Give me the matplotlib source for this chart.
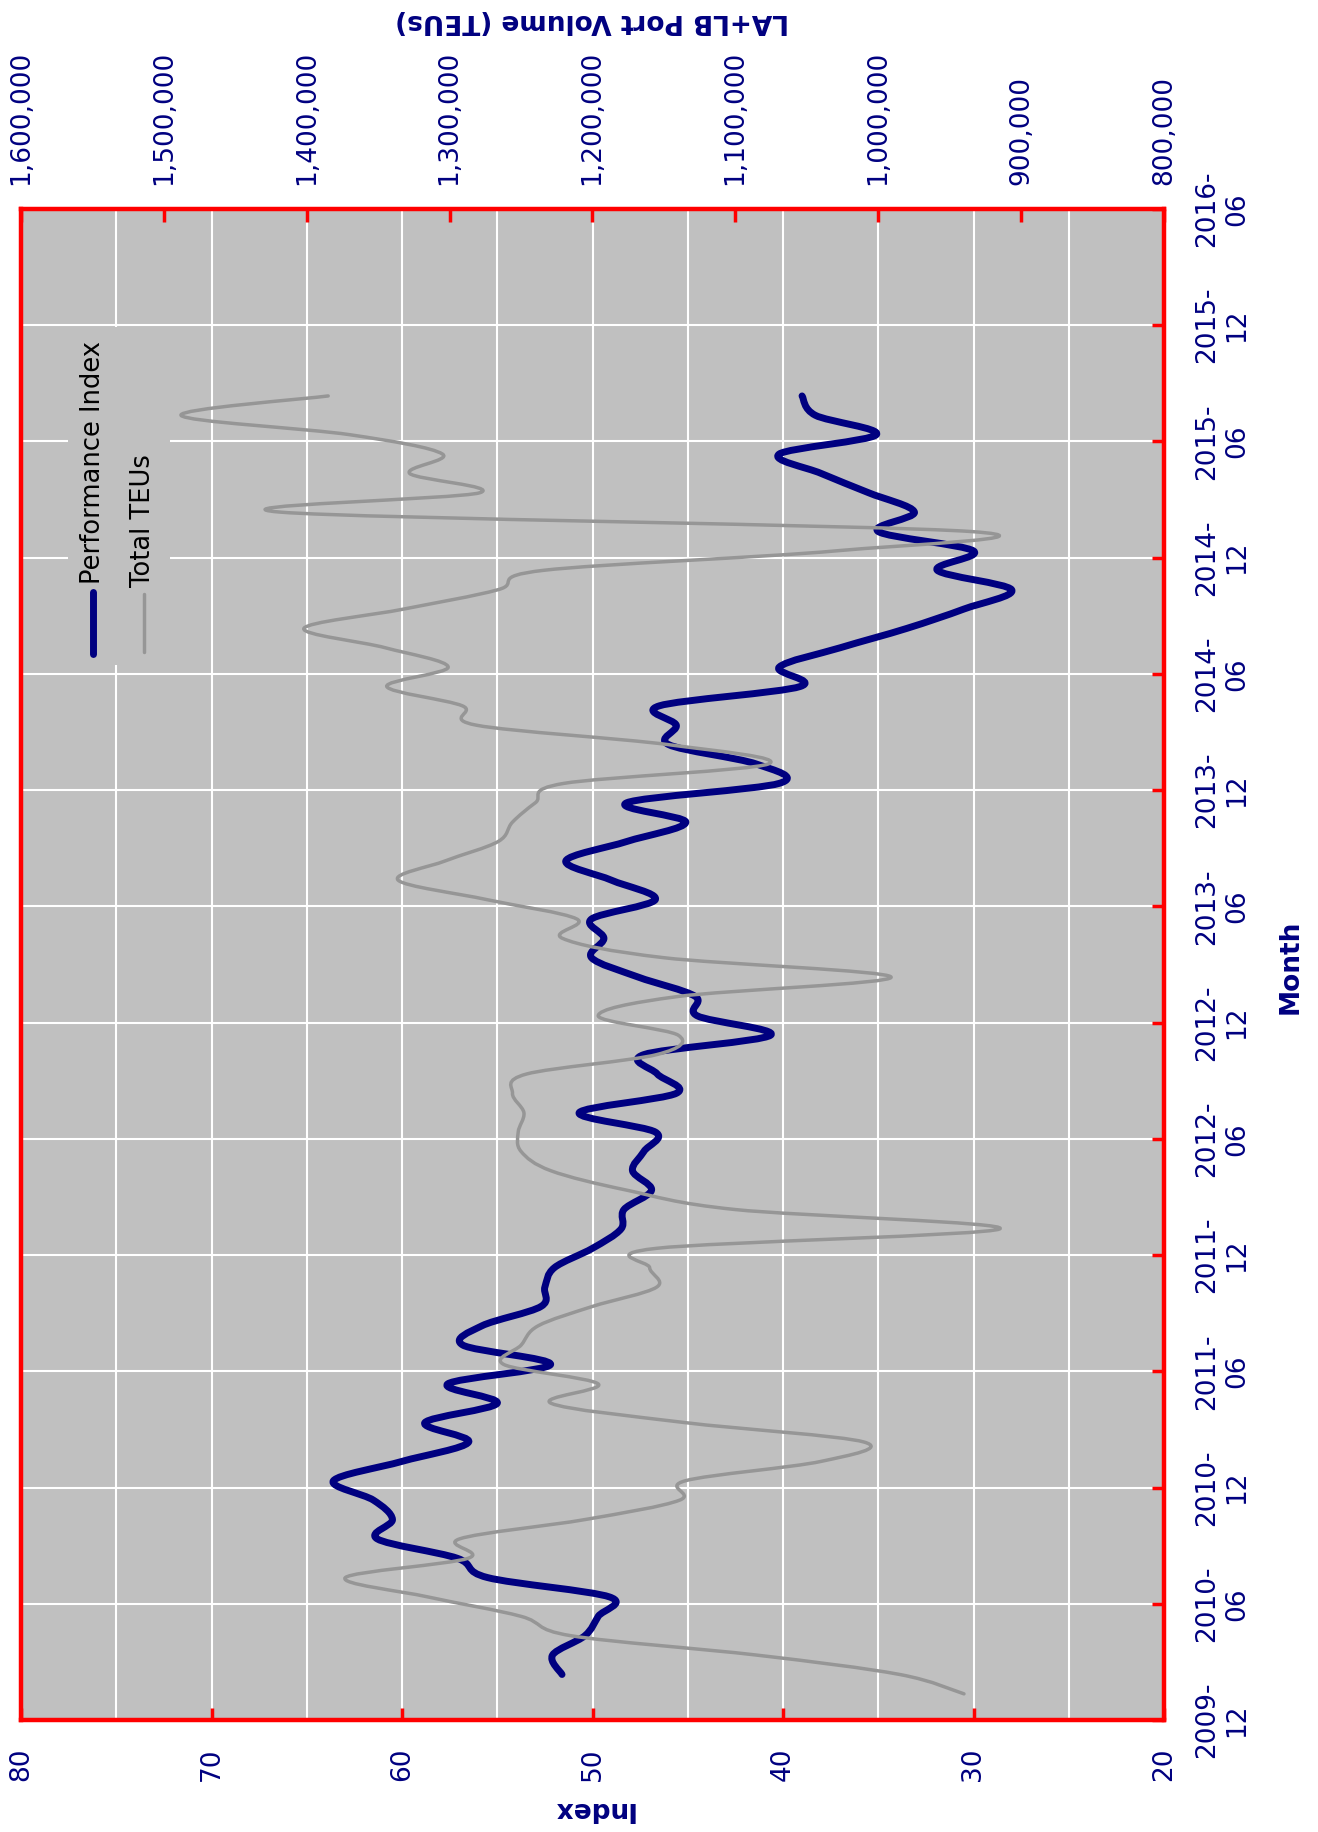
import numpy as np
import pandas as pd
import matplotlib
matplotlib.use("Agg")
import matplotlib.pyplot as plt
from matplotlib.path import Path
from matplotlib.patches import PathPatch, Rectangle
from matplotlib.lines import Line2D

# ---------------- data ----------------
axis_months = ["2009-12", "2010-06", "2010-12", "2011-06", "2011-12", "2012-06", "2012-12",
               "2013-06", "2013-12", "2014-06", "2014-12", "2015-06", "2015-12", "2016-06"]

teu_months = [str(p) for p in pd.period_range("2010-01", "2015-08", freq="M")]
teu_values = [940000, 985000, 1085000, 1215000, 1250000, 1315000, 1373000, 1287000, 1293000, 1205000,
              1139000, 1135000, 1040000, 1010000, 1135000, 1229000, 1196000, 1262000, 1250000, 1238000,
              1200000, 1155000, 1160000, 1155000, 915000, 1100000, 1176000, 1229000, 1250000, 1252000,
              1248000, 1256000, 1246000, 1155000, 1140000, 1196000, 1140000, 991000, 1150000, 1221000,
              1211000, 1274000, 1336000, 1303000, 1266000, 1256000, 1240000, 1220000, 1077000, 1147000,
              1281000, 1291000, 1344000, 1301000, 1345000, 1402000, 1332000, 1266000, 1234000, 1030000,
              935000, 1418000, 1279000, 1328000, 1305000, 1370000, 1488000, 1385000]

index_months = [str(p) for p in pd.period_range("2010-02", "2015-08", freq="M")]
index_values = [51.6, 52.1, 50.4, 49.7, 49.1, 55.5, 57.1, 61.3, 60.5, 61.5,
                63.6, 60.0, 56.5, 58.8, 55.0, 57.6, 52.2, 56.8, 55.8, 52.7,
                52.5, 52.0, 50.0, 48.5, 48.35, 46.9, 47.9, 47.3, 46.7, 50.7,
                45.6, 46.6, 47.3, 40.65, 44.5, 44.6, 47.6, 50.05, 49.4, 50.05,
                46.7, 49.0, 51.4, 48.2, 45.1, 48.2, 40.2, 41.4, 46.0, 45.6,
                46.5, 39.1, 40.2, 37.0, 33.5, 30.5, 28.0, 31.9, 30.0, 35.0,
                33.1, 35.5, 38.0, 40.2, 35.1, 38.3, 39.0]

index_ticks = [20, 30, 40, 50, 60, 70, 80]
teu_ticks = [800000, 900000, 1000000, 1100000, 1200000, 1300000, 1400000, 1500000, 1600000]

# ---------------- helpers ----------------
ORIGIN = pd.Period("2009-12", freq="M")
DAY_OFFSET = 0.35  # position of a monthly point inside its month


def month_pos(labels, offset=0.0):
    return np.array([(pd.Period(m, freq="M") - ORIGIN).n + offset for m in labels], dtype=float)


def smooth_path(xs, ys):
    P = np.column_stack([xs, ys]).astype(float)
    n = len(P)
    verts = [P[0]]
    codes = [Path.MOVETO]
    for i in range(n - 1):
        p0 = P[i - 1] if i > 0 else P[i]
        p1 = P[i]
        p2 = P[i + 1]
        p3 = P[i + 2] if i + 2 < n else P[i + 1]
        verts += [p1 + (p2 - p0) / 6.0, p2 - (p3 - p1) / 6.0, p2]
        codes += [Path.CURVE4] * 3
    return Path(verts, codes)


NAVY = "#000080"
RED = "#FF0000"
GREY_BG = "#C0C0C0"
GREY_LINE = "#969696"

plt.rcParams["font.family"] = ["DejaVu Sans"]

W, H = 1318, 1832
fig = plt.figure(figsize=(W / 100, H / 100), dpi=100)
fig.patch.set_facecolor("white")

L, R, T, B = 21, 1164, 209, 1720
ax = fig.add_axes([L / W, 1 - B / H, (R - L) / W, (B - T) / H])
ax.set_facecolor(GREY_BG)

tick_pos = month_pos(axis_months)
ax.set_ylim(tick_pos[0], tick_pos[-1])
ax.set_xlim(80, 20)

# grid
ax.set_xticks(index_ticks)
ax.set_xticks([v + 5 for v in index_ticks[:-1]], minor=True)
ax.set_yticks(tick_pos)
ax.set_yticklabels([m.replace("-", "-\n") for m in axis_months])
ax.set_xticklabels([str(v) for v in index_ticks])
ax.grid(True, which="both", color="white", linewidth=1.5, zorder=0)
ax.set_axisbelow(True)

ax.tick_params(axis="x", which="major", direction="in", length=9, width=2.5, color=RED,
               labelcolor=NAVY, labelsize=19, pad=20, labelrotation=90,
               bottom=True, top=False)
ax.tick_params(axis="x", which="minor", length=0)
ax.tick_params(axis="y", which="major", direction="in", length=9, width=2.5, color=RED,
               labelcolor=NAVY, labelsize=19, pad=22, labelrotation=90,
               left=False, right=True, labelleft=False, labelright=True)
for lab in ax.get_yticklabels():
    lab.set_va("center")
    lab.set_multialignment("center")

for sp in ax.spines.values():
    sp.set_color(RED)
    sp.set_linewidth(3.2)

# secondary (TEU) axis on top
ax2 = ax.twiny()
ax2.set_xlim(1600000, 800000)
ax2.set_ylim(tick_pos[0], tick_pos[-1])
ax2.patch.set_visible(False)
ax2.set_xticks(teu_ticks)
ax2.set_xticklabels([f"{v:,}" for v in teu_ticks])
ax2.tick_params(axis="x", which="major", direction="in", length=9, width=2.5, color=RED,
                labelcolor=NAVY, labelsize=19, pad=17, labelrotation=90,
                top=True, bottom=False, labeltop=True, labelbottom=False)
for sp in ax2.spines.values():
    sp.set_visible(False)

# series
idx_path = smooth_path(index_values, month_pos(index_months, DAY_OFFSET))
ax.add_patch(PathPatch(idx_path, facecolor="none", edgecolor=NAVY, linewidth=5.0,
                       capstyle="round", joinstyle="round", zorder=3))
teu_path = smooth_path(teu_values, month_pos(teu_months, DAY_OFFSET))
ax2.add_patch(PathPatch(teu_path, facecolor="none", edgecolor=GREY_LINE, linewidth=2.5,
                        capstyle="round", joinstyle="round", zorder=3))

# axis titles (rotated layout)
fig.text(592.5 / W, 1 - 21 / H, "LA+LB Port Volume (TEUs)", rotation=180, ha="center", va="center",
         color=NAVY, fontsize=19, fontweight="bold")
fig.text(592.5 / W, 1 - 1809 / H, "Index", rotation=180, ha="center", va="center",
         color=NAVY, fontsize=19, fontweight="bold")
fig.text(1291 / W, 1 - 967 / H, "Month", rotation=90, ha="center", va="center",
         color=NAVY, fontsize=19, fontweight="bold")

# legend (rotated)
fig.patches.append(Rectangle((68 / W, 1 - 665 / H), (170 - 68) / W, (665 - 327) / H,
                             transform=fig.transFigure, facecolor=GREY_BG, edgecolor="none",
                             zorder=2))
fig.lines.append(Line2D([92.7 / W, 92.7 / W], [1 - 654 / H, 1 - 592 / H], transform=fig.transFigure,
                        color=NAVY, linewidth=5.0, solid_capstyle="round", zorder=3))
fig.lines.append(Line2D([143.5 / W, 143.5 / W], [1 - 652 / H, 1 - 594 / H], transform=fig.transFigure,
                        color=GREY_LINE, linewidth=2.5, solid_capstyle="round", zorder=3))
fig.text(93 / W, 1 - 584 / H, "Performance Index", rotation=90, ha="center", va="bottom",
         color="black", fontsize=18.5, zorder=4)
fig.text(143 / W, 1 - 587 / H, "Total TEUs", rotation=90, ha="center", va="bottom",
         color="black", fontsize=18.5, zorder=4)

fig.savefig("out.png", dpi=100, facecolor="white")
